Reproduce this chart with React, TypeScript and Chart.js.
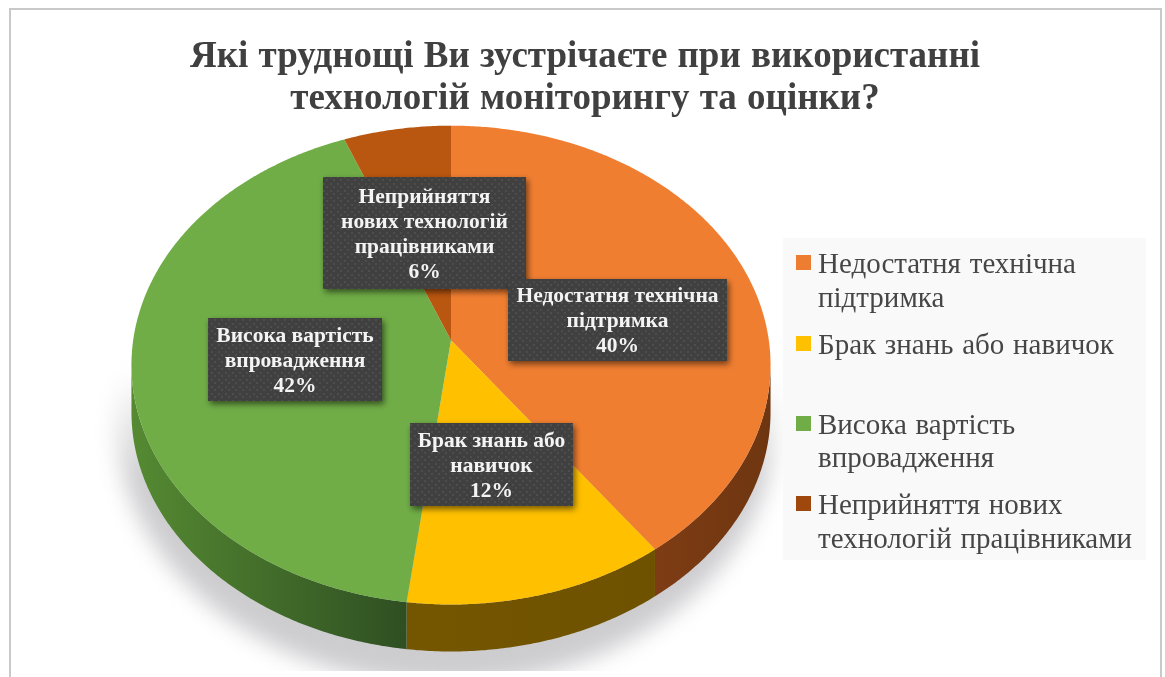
import React, { useEffect, useRef } from "react";
import { Chart, registerables, ArcElement, PieController } from "chart.js";

const titleLines = [
  "Які труднощі Ви зустрічаєте при використанні",
  "технологій моніторингу та оцінки?",
];
const categories = [
  "Недостатня технічна підтримка",
  "Брак знань або навичок",
  "Висока вартість впровадження",
  "Неприйняття нових технологій працівниками",
];
const shares = [40, 12, 42, 6];
const faceColors = ["#F07E31", "#FFC000", "#70AD47", "#B9560F"];
const keyColors = ["#ED7D31", "#FFC000", "#70AD47", "#9E480E"];
const rimColors = [
  ["#7E3C14", "#6E3610"],
  ["#755600", "#6E5200"],
  ["#558A32", "#2F4F22"],
  ["#6E3410", "#6E3410"],
];
const legendLines = [
  ["Недостатня технічна", "підтримка"],
  ["Брак знань або навичок"],
  ["Висока вартість", "впровадження"],
  ["Неприйняття нових", "технологій працівниками"],
];
const calloutLines = [
  ["Недостатня технічна", "підтримка"],
  ["Брак знань або", "навичок"],
  ["Висока вартість", "впровадження"],
  ["Неприйняття", "нових технологій", "працівниками"],
];

// Callout rectangles [left, top, right, bottom] and legend layout.
const calloutBoxes = [
  [508, 279, 727, 361],
  [410, 423, 573, 506],
  [208, 318, 382, 401],
  [323, 177, 526, 289],
];
const legendPanel = [783, 238, 1146, 560];
const legendMarkerTops = [255, 336, 416, 496];
const legendBaselines = [
  [273, 307],
  [354],
  [434, 467],
  [514, 548],
];

// Projective tilt of the disc: the near edge is drawn larger than the far edge.
const TILT = -0.104;
const STRETCH_X = 1.342;
const RIM_DEPTH = 47;
const RIM_START = Math.asin(-TILT);

function project(x: number, y: number, r: number, a: number) {
  const w = 1 + TILT * Math.sin(a);
  return [x + (STRETCH_X * r * Math.cos(a)) / w, y + (r * Math.sin(a)) / w];
}

class ProjectedArc extends ArcElement {
  static id = "projectedArc";

  draw(ctx: CanvasRenderingContext2D) {
    const { x, y, startAngle, endAngle, outerRadius: r } = this as any;
    const color = (this as any).options.backgroundColor;
    const step = Math.PI / 360;

    // Rim below the front edge
    const from = Math.max(startAngle, RIM_START);
    const to = Math.min(endAngle, Math.PI - RIM_START);
    if (from < to) {
      const pts: number[][] = [];
      for (let a = from; a < to; a += step) pts.push(project(x, y, r, a));
      pts.push(project(x, y, r, to));
      const xs = pts.map((p) => p[0]);
      const g = ctx.createLinearGradient(Math.min(...xs), 0, Math.max(...xs), 0);
      const shades = rimColors[faceColors.indexOf(color)];
      g.addColorStop(0, shades[0]);
      g.addColorStop(1, shades[1]);
      ctx.beginPath();
      pts.forEach((p, i) => (i ? ctx.lineTo(p[0], p[1]) : ctx.moveTo(p[0], p[1])));
      for (let i = pts.length - 1; i >= 0; i--) ctx.lineTo(pts[i][0], pts[i][1] + RIM_DEPTH);
      ctx.closePath();
      ctx.fillStyle = g;
      ctx.fill();
    }

    // Top face
    ctx.beginPath();
    ctx.moveTo(x, y);
    for (let a = startAngle; a < endAngle; a += step) {
      const p = project(x, y, r, a);
      ctx.lineTo(p[0], p[1]);
    }
    const last = project(x, y, r, endAngle);
    ctx.lineTo(last[0], last[1]);
    ctx.closePath();
    ctx.fillStyle = color;
    ctx.fill();
  }
}

class TiltedPieController extends PieController {
  static id = "tiltedPie";
  static defaults = { dataElementType: "projectedArc" };
}

Chart.register(...registerables, ProjectedArc, TiltedPieController as any);

function dotPattern(ctx: CanvasRenderingContext2D) {
  const tile = document.createElement("canvas");
  tile.width = 7;
  tile.height = 7;
  const t = tile.getContext("2d")!;
  t.fillStyle = "#404040";
  t.fillRect(0, 0, 7, 7);
  t.fillStyle = "#4D4D4D";
  t.fillRect(1, 1, 2, 2);
  t.fillRect(4, 4, 2, 2);
  return ctx.createPattern(tile, "repeat")!;
}

// The title spans the whole frame, not only the pie's side of it.
const titleSpan = {
  id: "titleSpan",
  afterLayout(chart: Chart) {
    const block = (chart as any).titleBlock;
    block.left = 0;
    block.right = chart.width + 5;
  },
};

const frame = {
  id: "frame",
  beforeDraw(chart: Chart) {
    const ctx = chart.ctx;
    ctx.save();
    ctx.fillStyle = "#ffffff";
    ctx.fillRect(0, 0, chart.width, chart.height);
    ctx.fillStyle = "#c9c9c9";
    ctx.fillRect(9, 8, 1153, 2);
    ctx.fillRect(9, 8, 2, chart.height - 8);
    ctx.fillRect(1160, 8, 2, chart.height - 8);
    ctx.restore();
    (ctx as any).wordSpacing = "1px";
  },
};

const groundShadow = {
  id: "groundShadow",
  beforeDatasetsDraw(chart: Chart) {
    const ctx = chart.ctx;
    (ctx as any).wordSpacing = "0px";
    ctx.save();
    ctx.beginPath();
    ctx.rect(0, 0, chart.width, 671);
    ctx.clip();
    ctx.filter = "blur(11px)";
    const fade = ctx.createLinearGradient(0, 372, 0, 480);
    fade.addColorStop(0, "rgba(205,205,208,0)");
    fade.addColorStop(1, "rgba(205,205,208,1)");
    ctx.fillStyle = fade;
    ctx.beginPath();
    ctx.ellipse(446, 420, 330, 265, 0, 0, Math.PI * 2);
    ctx.fill();
    ctx.restore();

    // Legend panel sits over the shadow
    const [l, t, rgt, b] = legendPanel;
    ctx.fillStyle = "#f9f9f9";
    ctx.fillRect(l, t, rgt - l, b - t);
  },
};

const callouts = {
  id: "callouts",
  afterDatasetsDraw(chart: Chart) {
    const ctx = chart.ctx;
    const fill = dotPattern(ctx);
    for (let i = calloutBoxes.length - 1; i >= 0; i--) {
      const [l, t, r, b] = calloutBoxes[i];
      ctx.save();
      ctx.shadowColor = "rgba(0,0,0,0.55)";
      ctx.shadowBlur = 6;
      ctx.shadowOffsetX = 2;
      ctx.shadowOffsetY = 3;
      ctx.fillStyle = fill;
      ctx.fillRect(l, t, r - l, b - t);
      ctx.restore();

      const lines = [...calloutLines[i], `${shares[i]}%`];
      const lh = 25;
      const first = (t + b) / 2 - ((lines.length - 1) * lh) / 2 + 7;
      ctx.save();
      ctx.fillStyle = "#f4f4f4";
      ctx.font = 'bold 21.5px "Liberation Serif"';
      ctx.textAlign = "center";
      ctx.textBaseline = "alphabetic";
      lines.forEach((line, n) => ctx.fillText(line, (l + r) / 2, first + n * lh));
      ctx.restore();
    }
  },
};

const legendBlock = {
  id: "legendBlock",
  afterDraw(chart: Chart) {
    const ctx = chart.ctx;
    ctx.save();
    (ctx as any).wordSpacing = "1.5px";
    ctx.font = '29px "Liberation Serif"';
    ctx.textAlign = "left";
    ctx.textBaseline = "alphabetic";
    categories.forEach((_, i) => {
      ctx.fillStyle = keyColors[i];
      ctx.fillRect(796, legendMarkerTops[i], 15, 15);
      ctx.fillStyle = "#464646";
      legendLines[i].forEach((line, n) => ctx.fillText(line, 818, legendBaselines[i][n]));
    });
    ctx.restore();
  },
};

export default function App() {
  const ref = useRef<HTMLCanvasElement>(null);

  useEffect(() => {
    const chart = new Chart(ref.current!, {
      type: "tiltedPie" as any,
      data: {
        labels: categories,
        datasets: [
          {
            data: shares,
            backgroundColor: faceColors,
            borderWidth: 0,
          },
        ],
      },
      options: {
        responsive: false,
        animation: false,
        rotation: 0,
        cutout: 0,
        layout: { padding: { left: 0, right: 263, top: 0, bottom: 100 } },
        plugins: {
          legend: { display: false },
          tooltip: { enabled: false },
          title: {
            display: true,
            text: titleLines,
            color: "#404040",
            font: { family: '"Liberation Serif"', size: 37, weight: "bold", lineHeight: 1.14 },
            padding: { top: 36, bottom: -17 },
          },
        },
      } as any,
      plugins: [titleSpan, frame, groundShadow, callouts, legendBlock],
    });
    return () => chart.destroy();
  }, []);

  return (
    <div style={{ position: "absolute", left: 0, top: 0, width: 1165, height: 677 }}>
      <canvas ref={ref} width={1165} height={677} style={{ display: "block" }} />
    </div>
  );
}
